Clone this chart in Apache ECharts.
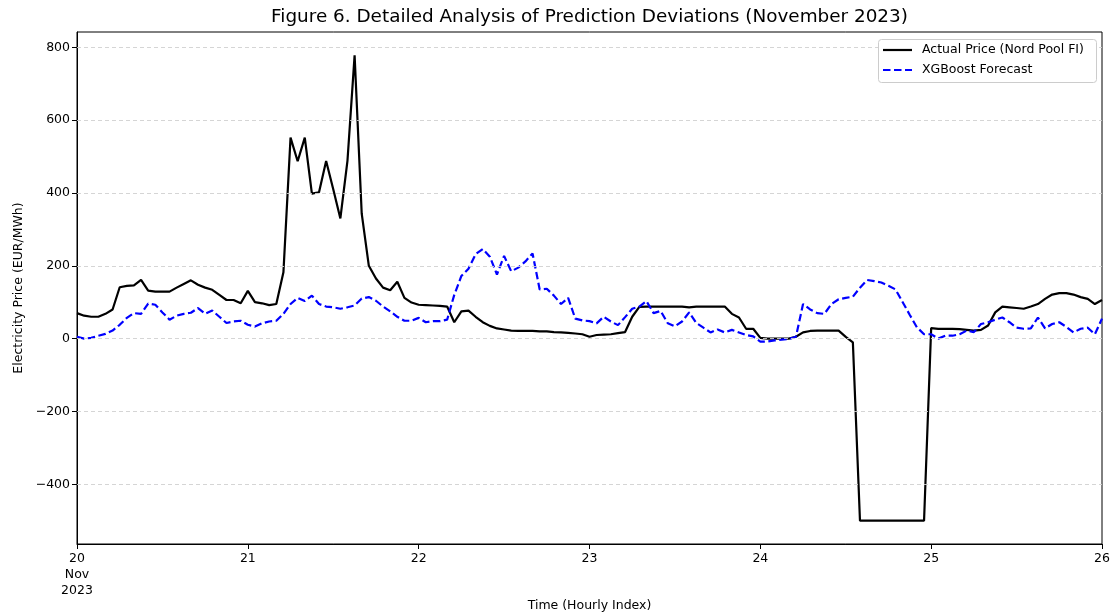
<!DOCTYPE html>
<html>
<head>
<meta charset="utf-8">
<script src="https://cdn.jsdelivr.net/npm/echarts@6/dist/echarts.min.js"></script>
<style>
html,body{margin:0;padding:0;background:#fff;}
#c{width:1113px;height:616px;}
</style>
</head>
<body>
<div id="c"></div>
<script>
// Hour index from Nov 20 00:00 (0) to Nov 26 00:00 (144)
const hours = Array.from({length: 145}, (_, i) => i);

const actualPrice = [
  70,63,60,60,68,80,141,145,146,161,132,129,129,129,140,150,160,148,140,134,120,106,106,97,
  131,100,97,92,95,182,552,487,552,398,402,488,410,330,489,778,343,200,165,140,133,156,112,99,
  93,92,91,90,88,45,75,77,60,45,35,28,25,22,21,21,21,20,20,18,17,16,14,12,
  5,10,11,12,15,18,60,87,88,88,88,88,88,88,86,88,88,88,88,88,68,58,27,27,
  2,0,0,0,0,5,17,21,22,22,22,22,5,-10,-500,-500,-500,-500,-500,-500,-500,-500,-500,-500,
  29,27,27,27,26,24,22,24,36,72,88,86,84,82,88,95,109,121,125,125,121,114,109,95,
  106
];

const xgbForecast = [
  5,0,2,8,13,22,38,57,70,68,96,93,72,52,63,68,71,84,68,77,60,43,47,49,
  38,33,42,47,49,68,95,112,103,118,95,88,86,82,86,91,110,114,104,88,75,60,49,49,
  57,45,48,48,52,120,172,192,232,246,225,176,227,185,195,212,234,135,137,118,95,112,55,50,
  48,42,60,47,37,59,82,88,103,70,76,42,34,47,72,43,30,17,25,17,24,17,10,6,
  -8,-8,-5,-3,-1,5,95,80,70,68,95,108,112,115,140,161,158,154,145,135,100,65,31,12,
  12,0,8,8,12,22,18,40,45,52,58,45,30,27,28,58,28,40,45,32,17,27,30,12,
  55
];

const xTickLabels = ['20\nNov\n2023', '21', '22', '23', '24', '25', '26'];
const yTicks = [-400, -200, 0, 200, 400, 600, 800];

const seriesNames = ['Actual Price (Nord Pool FI)', 'XGBoost Forecast'];
const titleText = 'Figure 6. Detailed Analysis of Prediction Deviations (November 2023)';

const FONT = 'DejaVu Sans';
const chart = echarts.init(document.getElementById('c'), null, {renderer: 'canvas'});

const fmtNum = v => (v < 0 ? '\u2212' + Math.abs(v) : String(v));

const legendGraphic = [
  {type: 'rect', z: 100, shape: {x: 878.5, y: 39.5, width: 218, height: 43, r: 3},
   style: {fill: '#fff', stroke: '#cccccc', lineWidth: 1}},
  {type: 'line', z: 101, shape: {x1: 883, y1: 50, x2: 912, y2: 50},
   style: {stroke: '#000', lineWidth: 2.2}},
  {type: 'text', z: 101, x: 922, y: 50,
   style: {text: seriesNames[0], fontFamily: FONT, fontSize: 12.5, fill: '#000', verticalAlign: 'middle', align: 'left'}},
  {type: 'line', z: 101, shape: {x1: 883, y1: 70, x2: 912, y2: 70},
   style: {stroke: '#0000ff', lineWidth: 2.2, lineDash: [7.5, 3.5]}},
  {type: 'text', z: 101, x: 922, y: 70,
   style: {text: seriesNames[1], fontFamily: FONT, fontSize: 12.5, fill: '#000', verticalAlign: 'middle', align: 'left'}}
];

chart.setOption({
  animation: false,
  backgroundColor: '#fff',
  textStyle: {fontFamily: FONT},
  graphic: [{
    type: 'text', x: 589.5, y: 8,
    style: {text: titleText, fontFamily: FONT, fontSize: 18.4, fill: '#000', align: 'center', verticalAlign: 'top'}
  }].concat(legendGraphic),
  grid: {
    left: 77, right: 11, top: 32, bottom: 72,
    outerBoundsMode: 'none', containLabel: false,
    show: true, borderColor: '#000', borderWidth: 1, backgroundColor: 'transparent'
  },
  xAxis: {
    type: 'value', min: 0, max: 144, interval: 24,
    name: 'Time (Hourly Index)', nameLocation: 'middle', nameGap: 55, nameMoveOverlap: false,
    nameTextStyle: {fontFamily: FONT, fontSize: 12.5, color: '#000', verticalAlign: 'top'},
    axisLine: {show: true, onZero: false, lineStyle: {color: '#000', width: 1}},
    axisTick: {show: true, inside: false, length: 5, lineStyle: {color: '#000', width: 1}},
    axisLabel: {
      fontFamily: FONT, fontSize: 12.5, color: '#000', lineHeight: 16, margin: 7,
      formatter: v => xTickLabels[Math.round(v / 24)] || ''
    },
    splitLine: {show: false}
  },
  yAxis: {
    type: 'value', min: -564, max: 842,
    name: 'Electricity Price (EUR/MWh)', nameLocation: 'middle', nameGap: 52, nameMoveOverlap: false,
    nameTextStyle: {fontFamily: FONT, fontSize: 12.5, color: '#000'},
    axisLine: {show: true, onZero: false, lineStyle: {color: '#000', width: 1}},
    axisTick: {show: true, length: 5, lineStyle: {color: '#000', width: 1}, customValues: yTicks},
    axisLabel: {
      fontFamily: FONT, fontSize: 12.5, color: '#000', margin: 7,
      customValues: yTicks, formatter: v => fmtNum(v)
    },
    splitLine: {show: false}
  },
  series: [
    {
      name: seriesNames[0], type: 'line',
      data: hours.map((h, i) => [h, actualPrice[i]]),
      symbol: 'none', showSymbol: false,
      lineStyle: {color: '#000', width: 2.2, type: 'solid'},
      itemStyle: {color: '#000'},
      z: 3,
      markLine: {
        silent: true, symbol: ['none', 'none'], animation: false,
        label: {show: false},
        lineStyle: {color: '#d0d0d0', width: 0.9, type: [4, 3]},
        data: yTicks.map(v => ({yAxis: v}))
      }
    },
    {
      name: seriesNames[1], type: 'line',
      data: hours.map((h, i) => [h, xgbForecast[i]]),
      symbol: 'none', showSymbol: false,
      lineStyle: {color: '#0000ff', width: 2.2, type: [7.5, 3.5]},
      itemStyle: {color: '#0000ff'},
      z: 4
    }
  ]
});
</script>
</body>
</html>
